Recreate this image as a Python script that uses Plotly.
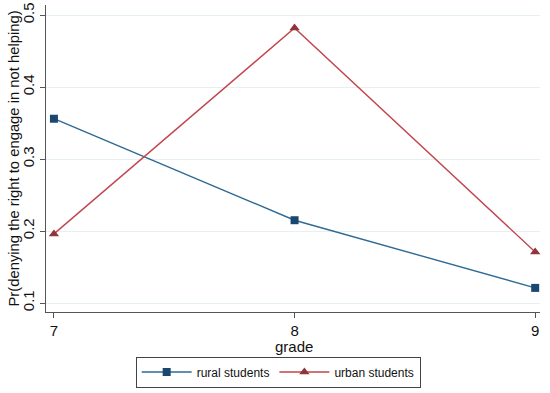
import plotly.graph_objects as go

grades = [7, 8, 9]
rural = [0.356, 0.215, 0.121]
urban = [0.196, 0.482, 0.171]
y_ticks = [0.1, 0.2, 0.3, 0.4, 0.5]
y_tick_labels = ["0.1", "0.2", "0.3", "0.4", "0.5"]
x_title = "grade"
y_title = "Pr(denying the right to engage in not helping)"

fig = go.Figure()
fig.add_trace(go.Scatter(
    x=grades, y=rural, name="rural students", mode="lines+markers",
    line=dict(color="#2e6a94", width=1.4),
    marker=dict(symbol="square", size=8, color="#1a476f"),
    cliponaxis=False,
))
fig.add_trace(go.Scatter(
    x=grades, y=urban, name="urban students", mode="lines+markers",
    line=dict(color="#c2464e", width=1.4),
    marker=dict(symbol="triangle-up", size=9, color="#90353b"),
    cliponaxis=False,
))

fig.update_layout(
    width=550, height=393,
    margin=dict(l=46, r=10, t=5, b=81, autoexpand=False),
    paper_bgcolor="white", plot_bgcolor="white",
    font=dict(family="Liberation Sans, Arial, sans-serif", size=13, color="#111"),
    showlegend=True,
    legend=dict(
        orientation="h", x=0.47, xanchor="center", y=-0.145, yanchor="top",
        bordercolor="#444", borderwidth=1, font=dict(size=12),
        itemwidth=50, tracegroupgap=0,
    ),
    xaxis=dict(
        range=[6.967, 9.02], tickvals=grades, ticktext=["7", "8", "9"],
        automargin=False,
        showgrid=False, zeroline=False, showline=True, linecolor="#555", linewidth=1,
        ticks="outside", ticklen=5, tickcolor="#555",
        tickfont=dict(size=15),
    ),
    yaxis=dict(
        range=[0.0875, 0.514], tickvals=y_ticks, ticktext=y_tick_labels,
        tickangle=-90, automargin=False,
        showgrid=True, gridcolor="#e6eff1", gridwidth=1.3,
        zeroline=False, showline=True, linecolor="#555", linewidth=1,
        ticks="outside", ticklen=5, tickcolor="#555",
        tickfont=dict(size=15),
    ),
    annotations=[
        dict(text=x_title, xref="paper", yref="paper", x=0.502, y=-0.113,
             xanchor="center", yanchor="middle", showarrow=False, font=dict(size=15)),
        dict(text=y_title, xref="paper", yref="paper", x=-0.0668, y=0.5,
             xanchor="center", yanchor="middle", textangle=-90, showarrow=False,
             font=dict(size=14.8)),
    ],
)

fig.write_html("out.html", config={"displayModeBar": False},
               post_script="document.body.style.margin='0';")
